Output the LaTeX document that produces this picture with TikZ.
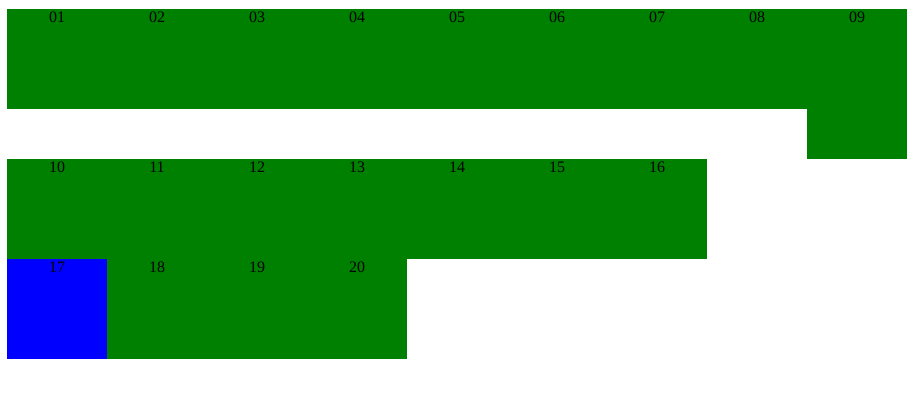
\documentclass[tikz,border=0pt]{standalone}
\usepackage{fontspec}
\setmainfont{Liberation Serif}
\usetikzlibrary{positioning}
\definecolor{cellGreen}{HTML}{008000}
\definecolor{cellBlue}{HTML}{0000FF}

\begin{document}
\begin{tikzpicture}[x=1pt,y=-1pt]
\path[fill=white] (0,0) rectangle (923,401);
\useasboundingbox (0,0) rectangle (923,401);
\tikzset{cell/.style={fill=cellGreen,draw=none,inner sep=0pt,outer sep=0pt,minimum width=100pt,minimum height=100pt,anchor=north west},
  tag/.style={anchor=north,inner sep=3pt,text=black,font=\fontsize{16}{19}\selectfont}}
% first row, 09 hangs down
\foreach \n [count=\k from 0] in {01,02,03,04,05,06,07,08} {
  \node[cell] (b\n) at (7+100*\k,9) {};
  \node[tag] (t\n) at (b\n.north) {\n};
}
\node[cell,minimum height=150pt] (b09) at (807,9) {};
\node[tag] (t09) at (b09.north) {09};
% second row
\foreach \n [count=\k from 0] in {10,11,12,13,14,15,16} {
  \node[cell] (b\n) at (7+100*\k,159) {};
  \node[tag] (t\n) at (b\n.north) {\n};
}
% third row, 17 in blue
\node[cell,fill=cellBlue] (b17) at (7,259) {};
\node[tag] (t17) at (b17.north) {17};
\foreach \n [count=\k from 1] in {18,19,20} {
  \node[cell] (b\n) at (7+100*\k,259) {};
  \node[tag] (t\n) at (b\n.north) {\n};
}
\end{tikzpicture}
\end{document}
